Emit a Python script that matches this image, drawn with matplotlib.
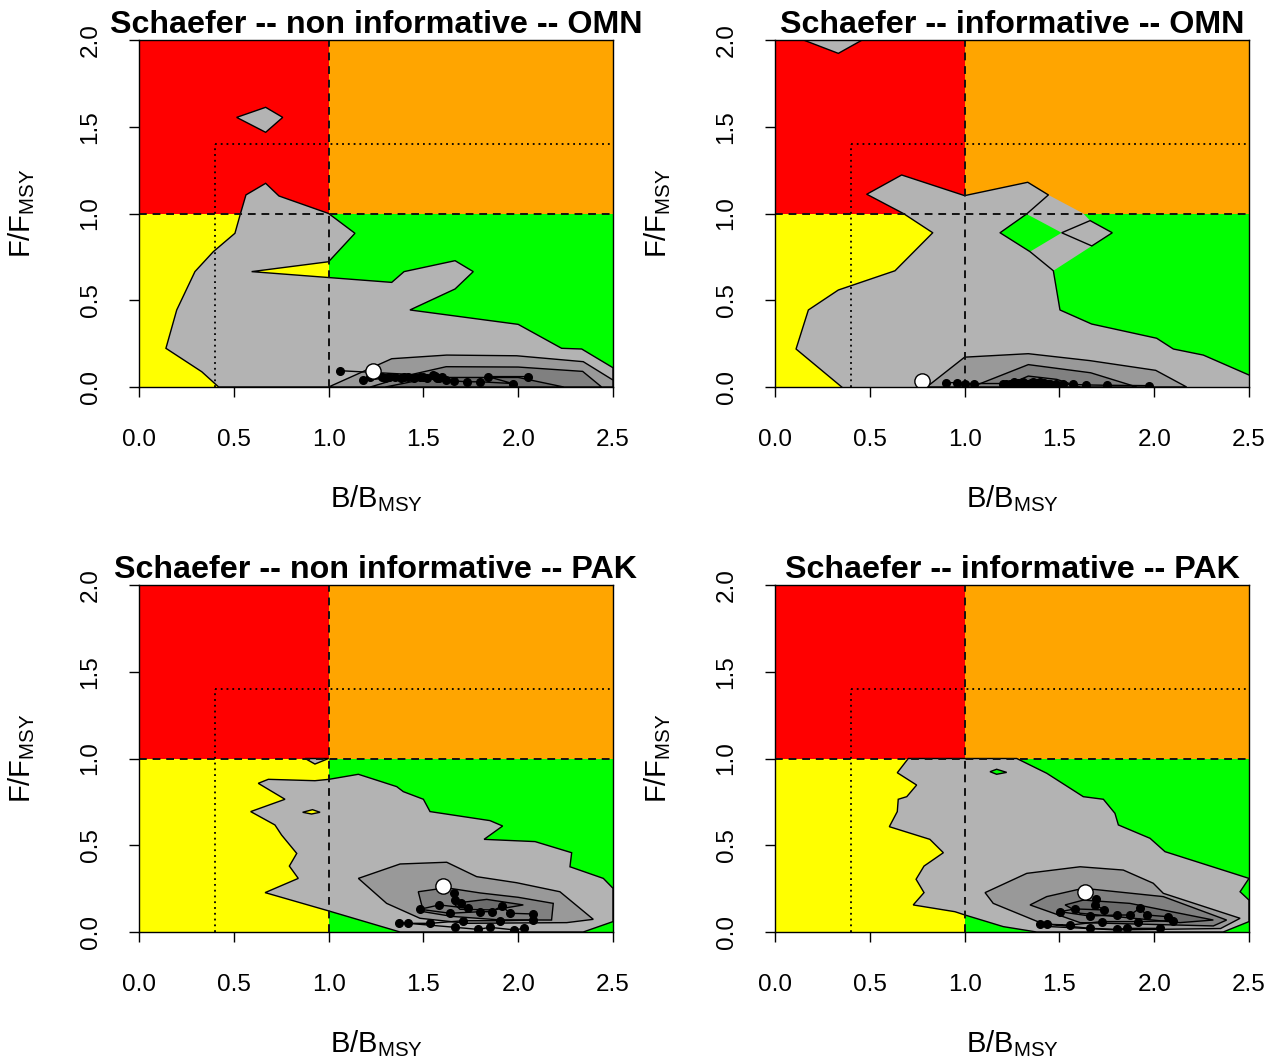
import matplotlib
matplotlib.use("Agg")
import matplotlib.pyplot as plt
from matplotlib.patches import Polygon, Rectangle

plt.rcParams['font.family'] = ['Liberation Sans', 'DejaVu Sans']
plt.rcParams['mathtext.fontset'] = 'custom'
plt.rcParams['mathtext.rm'] = 'Liberation Sans'
plt.rcParams['mathtext.it'] = 'Liberation Sans:italic'

# ---------------- data ----------------
titles = ["Schaefer -- non informative -- OMN", "Schaefer -- informative -- OMN",
          "Schaefer -- non informative -- PAK", "Schaefer -- informative -- PAK"]
x_ticks = [0.0, 0.5, 1.0, 1.5, 2.0, 2.5]
y_ticks = [0.0, 0.5, 1.0, 1.5, 2.0]
x_tick_labels = ["0.0", "0.5", "1.0", "1.5", "2.0", "2.5"]
y_tick_labels = ["0.0", "0.5", "1.0", "1.5", "2.0"]
b_ref, f_ref = 1.0, 1.0          # B/Bmsy = 1, F/Fmsy = 1
b_lim, f_lim = 0.4, 1.4          # dotted limit lines
b_max, f_max = 2.5, 2.0

# --- top-left: non informative OMN ---
tl_main_b = [0.42, 0.331, 0.142, 0.199, 0.295, 0.392, 0.506, 0.533, 0.564, 0.668, 0.738, 1.0, 1.139, 1.0,
             0.594, 1.333, 1.398, 1.667, 1.763, 1.667, 1.429, 2.0, 2.229, 2.335, 2.5, 2.5]
tl_main_f = [0.0, 0.088, 0.223, 0.444, 0.665, 0.780, 0.886, 0.991, 1.107, 1.174, 1.101, 1.0, 0.886, 0.722,
             0.665, 0.603, 0.665, 0.728, 0.665, 0.565, 0.444, 0.361, 0.223, 0.219, 0.111, 0.0]
tl_isle_b = [0.515, 0.668, 0.758, 0.668]
tl_isle_f = [1.554, 1.612, 1.554, 1.468]
tl_l2_b = [1.0, 1.333, 1.623, 1.992, 2.343, 2.5, 2.5]
tl_l2_f = [0.0, 0.163, 0.184, 0.180, 0.146, 0.04, 0.0]
tl_l3_b = [1.22, 1.45, 1.62, 2.0, 2.34, 2.44]
tl_l3_f = [0.0, 0.075, 0.117, 0.115, 0.09, 0.0]
tl_l4_b = [1.30, 1.55, 2.0, 2.24]
tl_l4_f = [0.0, 0.055, 0.055, 0.0]
tl_traj_b = [2.05, 1.84, 1.97, 1.80, 1.73, 1.66, 1.62, 1.58, 1.55, 1.60, 1.57, 1.52, 1.48, 1.45, 1.42,
             1.38, 1.35, 1.32, 1.28, 1.22, 1.18, 1.30, 1.40, 1.50, 1.56, 1.06]
tl_traj_f = [0.06, 0.06, 0.02, 0.03, 0.03, 0.035, 0.04, 0.05, 0.07, 0.06, 0.05, 0.05, 0.06, 0.05, 0.06,
             0.05, 0.06, 0.055, 0.06, 0.055, 0.04, 0.05, 0.055, 0.06, 0.065, 0.094]
tl_now = (1.236, 0.094)

# --- top-right: informative OMN ---
tr_fill_b = [0.352, 0.111, 0.176, 0.334, 0.633, 0.832, 0.677, 0.484, 0.668, 1.0, 1.333, 1.442, 1.626, 1.662,
             1.779, 1.671, 1.468, 1.503, 1.670, 2.013, 2.101, 2.259, 2.5, 2.5]
tr_fill_f = [0.0, 0.219, 0.444, 0.559, 0.670, 0.889, 1.0, 1.111, 1.222, 1.103, 1.180, 1.107, 1.0, 0.959,
             0.889, 0.813, 0.670, 0.444, 0.363, 0.281, 0.219, 0.184, 0.069, 0.0]
tr_hole_b = [1.187, 1.327, 1.512, 1.345]
tr_hole_f = [0.889, 0.997, 0.889, 0.780]
tr_line_b = [0.352, 0.111, 0.176, 0.334, 0.633, 0.832, 0.677, 0.484, 0.668, 1.0, 1.333, 1.442, 1.327, 1.187,
             1.345, 1.468, 1.503, 1.670, 2.013, 2.101, 2.259, 2.5]
tr_line_f = [0.0, 0.219, 0.444, 0.559, 0.670, 0.889, 1.0, 1.111, 1.222, 1.103, 1.180, 1.107, 0.997, 0.889,
             0.780, 0.670, 0.444, 0.363, 0.281, 0.219, 0.184, 0.069]
tr_isle_b = [1.512, 1.662, 1.779, 1.671]
tr_isle_f = [0.889, 0.959, 0.889, 0.813]
tr_cap_b = [0.15, 0.334, 0.46]
tr_cap_f = [2.0, 1.923, 2.0]
tr_l2_b = [0.80, 1.0, 1.336, 1.661, 2.008, 2.171]
tr_l2_f = [0.0, 0.172, 0.192, 0.152, 0.096, 0.0]
tr_l3_b = [1.037, 1.336, 1.665, 1.908]
tr_l3_f = [0.0, 0.129, 0.082, 0.0]
tr_l4_b = [1.20, 1.336, 1.486, 1.609]
tr_l4_f = [0.0, 0.063, 0.044, 0.0]
tr_traj_b = [1.97, 1.75, 1.64, 1.57, 1.52, 1.48, 1.45, 1.42, 1.40, 1.38, 1.36, 1.35, 1.33, 1.31, 1.30,
             1.28, 1.26, 1.24, 1.22, 1.20, 1.32, 1.38, 1.44, 1.05, 1.00, 0.96, 0.90]
tr_traj_f = [0.008, 0.01, 0.012, 0.015, 0.015, 0.02, 0.02, 0.025, 0.03, 0.02, 0.03, 0.025, 0.02, 0.03, 0.02,
             0.025, 0.03, 0.02, 0.015, 0.02, 0.02, 0.025, 0.02, 0.02, 0.02, 0.025, 0.025]
tr_now = (0.774, 0.035)

# --- bottom-left: non informative PAK ---
bl_main_b = [0.629, 0.682, 0.928, 1.002, 1.157, 1.359, 1.394, 1.5, 1.535, 1.851, 1.918, 1.820, 2.089, 2.282,
             2.273, 2.449, 2.5, 2.5, 2.343, 1.377, 1.002, 0.665, 0.840, 0.793, 0.832, 0.752, 0.717, 0.589, 0.770]
bl_main_f = [0.857, 0.880, 0.872, 0.880, 0.909, 0.838, 0.809, 0.765, 0.694, 0.642, 0.611, 0.534, 0.521, 0.457,
             0.376, 0.309, 0.252, 0.06, 0.0, 0.0, 0.121, 0.227, 0.309, 0.380, 0.453, 0.559, 0.617, 0.694, 0.765]
bl_isle_b = [0.876, 0.928, 1.0]
bl_isle_f = [1.0, 0.968, 1.0]
bl_hole_b = [0.863, 0.915, 0.955, 0.91]
bl_hole_f = [0.69, 0.705, 0.69, 0.68]
bl_l2_b = [1.157, 1.377, 1.623, 1.781, 1.992, 2.220, 2.396, 2.256, 1.728, 1.482, 1.306]
bl_l2_f = [0.309, 0.392, 0.402, 0.319, 0.284, 0.232, 0.073, 0.054, 0.05, 0.079, 0.165]
bl_l3_b = [1.473, 1.62, 1.80, 2.0, 2.185, 2.176, 1.9, 1.65, 1.5]
bl_l3_f = [0.232, 0.255, 0.225, 0.2, 0.165, 0.069, 0.07, 0.09, 0.117]
bl_l4_b = [1.658, 1.834, 2.027, 1.869, 1.693]
bl_l4_f = [0.165, 0.188, 0.156, 0.127, 0.131]
bl_traj_b = [2.03, 1.98, 1.85, 1.79, 1.667, 1.42, 1.373, 1.535, 1.711, 1.904, 2.08, 2.076, 1.957, 1.913,
             1.86, 1.799, 1.64, 1.482, 1.584, 1.737, 1.70, 1.667, 1.661]
bl_traj_f = [0.021, 0.012, 0.027, 0.015, 0.027, 0.05, 0.05, 0.05, 0.065, 0.065, 0.069, 0.104, 0.108, 0.15,
             0.117, 0.117, 0.108, 0.131, 0.156, 0.137, 0.165, 0.184, 0.227]
bl_now = (1.602, 0.265)

# --- bottom-right: informative PAK ---
br_main_b = [0.703, 1.275, 1.433, 1.626, 1.732, 1.793, 1.811, 1.978, 2.057, 2.5, 2.453, 2.5, 2.5, 2.364,
             1.38, 1.204, 1.002, 0.949, 0.729, 0.786, 0.744, 0.786, 0.888, 0.817, 0.603, 0.645, 0.65, 0.695,
             0.747, 0.645]
br_main_f = [1.0, 1.0, 0.915, 0.780, 0.765, 0.684, 0.617, 0.540, 0.463, 0.309, 0.232, 0.184, 0.06, 0.0,
             0.0, 0.031, 0.098, 0.117, 0.156, 0.227, 0.304, 0.380, 0.457, 0.534, 0.607, 0.694, 0.765, 0.780,
             0.847, 0.918]
br_hole_b = [1.134, 1.169, 1.222, 1.169]
br_hole_f = [0.924, 0.938, 0.920, 0.909]
br_l2_b = [1.108, 1.328, 1.609, 1.837, 1.995, 2.048, 2.453, 2.35, 1.8, 1.45, 1.151]
br_l2_f = [0.227, 0.338, 0.376, 0.357, 0.281, 0.223, 0.079, 0.02, 0.012, 0.031, 0.165]
br_l3_b = [1.345, 1.433, 1.626, 2.048, 2.382, 2.312, 1.609]
br_l3_f = [0.156, 0.204, 0.252, 0.204, 0.069, 0.035, 0.054]
br_l4_b = [1.53, 1.626, 1.872, 2.312, 2.136, 1.609]
br_l4_f = [0.156, 0.184, 0.165, 0.069, 0.054, 0.108]
br_traj_b = [2.03, 1.855, 1.802, 1.661, 1.433, 1.398, 1.556, 1.723, 1.916, 2.10, 2.074, 1.96, 1.925, 1.872,
             1.802, 1.661, 1.503, 1.582, 1.735, 1.69, 1.693]
br_traj_f = [0.021, 0.021, 0.015, 0.021, 0.046, 0.046, 0.04, 0.06, 0.06, 0.065, 0.088, 0.098, 0.137, 0.098,
             0.098, 0.092, 0.117, 0.133, 0.127, 0.156, 0.188]
br_now = (1.635, 0.232)

# ---------------- style ----------------
C_RED, C_ORANGE, C_YELLOW, C_GREEN = "#FF0000", "#FFA500", "#FFFF00", "#00FF00"
G1, G2, G3, G4 = "#B3B3B3", "#999999", "#808080", "#6B6B6B"

W, H = 1277, 1057
fig = plt.figure(figsize=(W / 100, H / 100), dpi=100)
fig.patch.set_facecolor("white")

ax_px = {  # left, top, right, bottom in pixels
    0: (139, 40, 613, 387), 1: (775, 40, 1249, 387),
    2: (139, 585, 613, 932), 3: (775, 585, 1249, 932),
}


def poly(ax, b, f, fc, ec="black", lw=1.0, z=2):
    p = Polygon(list(zip(b, f)), closed=True, facecolor=fc, edgecolor=ec, lw=lw, zorder=z)
    ax.add_patch(p)


def make_axes(i):
    l, t, r, btm = ax_px[i]
    ax = fig.add_axes([l / W, 1 - btm / H, (r - l) / W, (btm - t) / H])
    ax.set_xlim(0, b_max)
    ax.set_ylim(0, f_max)
    # zones
    ax.add_patch(Rectangle((0, f_ref), b_ref, f_max - f_ref, color=C_RED, lw=0, zorder=0))
    ax.add_patch(Rectangle((b_ref, f_ref), b_max - b_ref, f_max - f_ref, color=C_ORANGE, lw=0, zorder=0))
    ax.add_patch(Rectangle((0, 0), b_ref, f_ref, color=C_YELLOW, lw=0, zorder=0))
    ax.add_patch(Rectangle((b_ref, 0), b_max - b_ref, f_ref, color=C_GREEN, lw=0, zorder=0))
    return ax


def finish(ax, i, traj_b, traj_f, now):
    # reference lines
    ax.plot([b_ref, b_ref], [0, f_max], color="#111111", lw=1.4, ls=(0, (4, 3)), zorder=5)
    ax.plot([0, b_max], [f_ref, f_ref], color="#111111", lw=1.4, ls=(0, (4, 3)), zorder=5)
    ax.plot([b_lim, b_lim], [0, f_lim], color="black", lw=1.3, ls=(0, (1, 2.2)), zorder=5)
    ax.plot([b_lim, b_max], [f_lim, f_lim], color="black", lw=1.3, ls=(0, (1, 2.2)), zorder=5)
    # trajectory
    ax.plot(traj_b, traj_f, "-o", color="black", ms=5.5, lw=1.0, zorder=6)
    ax.plot([now[0]], [now[1]], "o", mfc="white", mec="black", ms=11, mew=1.0, zorder=7)
    ax.set_xticks(x_ticks)
    ax.set_xticklabels(x_tick_labels)
    ax.set_yticks(y_ticks)
    ax.set_yticklabels(y_tick_labels, rotation=90, va="center")
    ax.tick_params(axis="x", direction="out", length=7, width=1.0, labelsize=17.5, pad=23)
    ax.tick_params(axis="y", direction="out", length=7, width=1.0, labelsize=17.5, pad=20)
    for s in ax.spines.values():
        s.set_linewidth(1.0)
        s.set_zorder(10)
    ax.set_title(titles[i], fontsize=23.2, fontweight="bold", pad=3)
    l, t, r, btm = ax_px[i]
    fig.text(((l + r) / 2) / W, 1 - (btm + 112) / H, r"$\mathrm{B/B_{MSY}}$", ha="center", va="center",
             fontsize=21)
    fig.text((l - 117) / W, 1 - ((t + btm) / 2) / H, r"$\mathrm{F/F_{MSY}}$", ha="center", va="center",
             fontsize=21, rotation=90)


# top-left
ax = make_axes(0)
poly(ax, tl_main_b, tl_main_f, G1)
poly(ax, tl_isle_b, tl_isle_f, G1)
poly(ax, tl_l2_b, tl_l2_f, G2)
poly(ax, tl_l3_b, tl_l3_f, G3)
poly(ax, tl_l4_b, tl_l4_f, G4)
finish(ax, 0, tl_traj_b, tl_traj_f, tl_now)

# top-right
ax = make_axes(1)
poly(ax, tr_fill_b, tr_fill_f, G1, ec="none", lw=0)
poly(ax, tr_hole_b, tr_hole_f, C_GREEN, ec="none", lw=0)
ax.plot(tr_line_b, tr_line_f, color="black", lw=1.0, zorder=3)
poly(ax, tr_isle_b, tr_isle_f, "none", z=3)
poly(ax, tr_cap_b, tr_cap_f, G1)
poly(ax, tr_l2_b, tr_l2_f, G2)
poly(ax, tr_l3_b, tr_l3_f, G3)
poly(ax, tr_l4_b, tr_l4_f, G4)
finish(ax, 1, tr_traj_b, tr_traj_f, tr_now)

# bottom-left
ax = make_axes(2)
poly(ax, bl_main_b, bl_main_f, G1)
poly(ax, bl_isle_b, bl_isle_f, G1)
poly(ax, bl_hole_b, bl_hole_f, C_YELLOW)
poly(ax, bl_l2_b, bl_l2_f, G2)
poly(ax, bl_l3_b, bl_l3_f, G3)
poly(ax, bl_l4_b, bl_l4_f, G4)
finish(ax, 2, bl_traj_b, bl_traj_f, bl_now)

# bottom-right
ax = make_axes(3)
poly(ax, br_main_b, br_main_f, G1)
poly(ax, br_hole_b, br_hole_f, C_GREEN)
poly(ax, br_l2_b, br_l2_f, G2)
poly(ax, br_l3_b, br_l3_f, G3)
poly(ax, br_l4_b, br_l4_f, G4)
finish(ax, 3, br_traj_b, br_traj_f, br_now)

fig.savefig("out.png", dpi=100)
